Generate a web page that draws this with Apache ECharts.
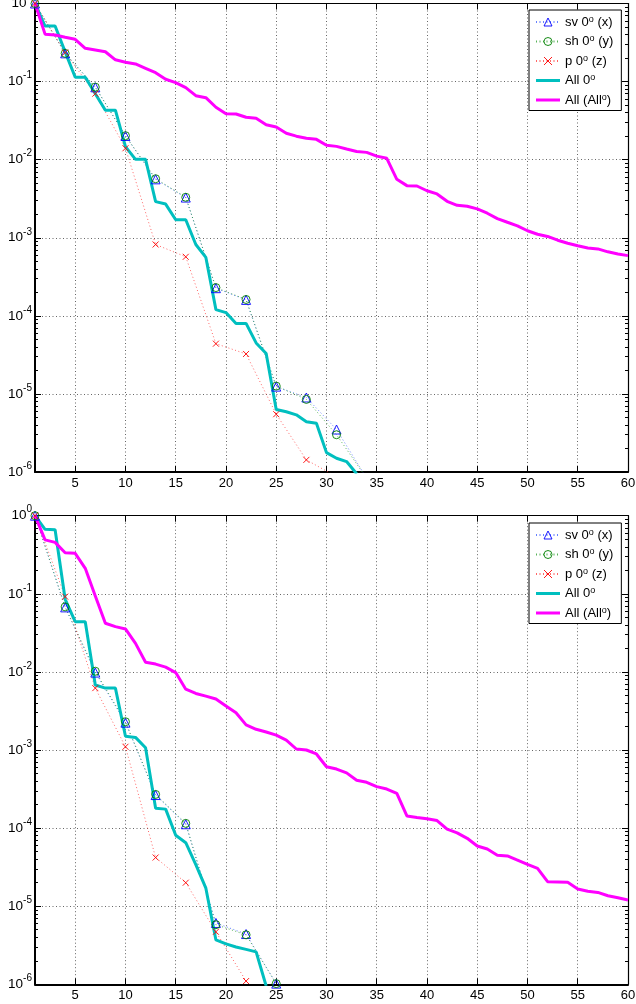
<!DOCTYPE html>
<html><head><meta charset="utf-8">
<script src="https://cdn.jsdelivr.net/npm/echarts@6/dist/echarts.min.js"></script>
<style>html,body{margin:0;padding:0;background:#fff}#c{width:636px;height:1004px}</style>
</head><body><div id="c"></div>
<script>
// ---------- data ----------
const seriesNames = ['sv 0o (x)', 'sh 0o (y)', 'p 0o (z)', 'All 0o', 'All (Allo)'];
const xTickValues = [5, 10, 15, 20, 25, 30, 35, 40, 45, 50, 55, 60];

// marker series are sampled every 3rd index, starting at 1
const topSv = [1.0, 0.23, 0.0845, 0.0201, 0.0056, 0.00327, 0.000226, 0.00016, 1.24e-5, 9.0e-6, 3.5e-6, 8.3e-7];
const topSh = [1.0, 0.23, 0.085, 0.0203, 0.0057, 0.0033, 0.00023, 0.000162, 1.26e-5, 8.5e-6, 3.0e-6, 8.3e-7];
const topP  = [1.0, 0.235, 0.07, 0.014, 0.00082, 0.00057, 4.4e-5, 3.25e-5, 5.5e-6, 1.43e-6, 8.7e-7];
const topAll0 = [1.0, 0.515, 0.515, 0.24, 0.1136, 0.1136, 0.07, 0.043, 0.043, 0.0147, 0.0101, 0.0101,
  0.0029, 0.0027, 0.0017, 0.0017, 0.00082, 0.00056, 0.00012, 0.00011, 0.00008, 0.00008, 4.5e-5, 3.3e-5,
  6.3e-6, 5.9e-6, 5.4e-6, 4.4e-6, 4.2e-6, 1.77e-6, 1.5e-6, 1.36e-6, 9.5e-7];
const topAllAll = [1.0, 0.405, 0.395, 0.37, 0.348, 0.267, 0.254, 0.241, 0.19, 0.177,
  0.168, 0.148, 0.13, 0.107, 0.097, 0.0836, 0.066, 0.0622, 0.0469, 0.0388,
  0.0385, 0.0349, 0.0339, 0.028, 0.0262, 0.0218, 0.020, 0.0188, 0.0182, 0.0153,
  0.0148, 0.0137, 0.0127, 0.0124, 0.0111, 0.0104, 0.0056, 0.00465, 0.0046, 0.0040,
  0.00364, 0.00293, 0.0026, 0.00253, 0.00234, 0.00206, 0.00176, 0.00158, 0.00142, 0.00123,
  0.00111, 0.00104, 0.00093, 0.00085, 0.00079, 0.00074, 0.00072, 0.00066, 0.00062, 0.00059];

const botSv = [1.0, 0.067, 0.0098, 0.00224, 0.000265, 0.000112, 6.1e-6, 4.4e-6, 1.02e-6];
const botSh = [1.0, 0.068, 0.0102, 0.0023, 0.00027, 0.000115, 5.8e-6, 4.3e-6, 1.02e-6];
const botP  = [1.0, 0.092, 0.0062, 0.0011, 4.2e-5, 2.0e-5, 4.7e-6, 1.1e-6];
const botAll0 = [1.0, 0.67, 0.66, 0.085, 0.044, 0.044, 0.0068, 0.0062, 0.0062, 0.0015, 0.00145, 0.00107,
  0.00018, 0.000175, 8.1e-5, 6.5e-5, 3.4e-5, 1.7e-5, 3.7e-6, 3.3e-6, 3.0e-6, 2.8e-6, 2.6e-6, 9.5e-7];
const botAllAll = [1.0, 0.49, 0.456, 0.336, 0.33, 0.212, 0.094, 0.042, 0.038, 0.0355,
  0.0232, 0.0133, 0.0126, 0.0115, 0.0098, 0.006, 0.0053, 0.0049, 0.0045, 0.00366,
  0.003, 0.0021, 0.00184, 0.0017, 0.00155, 0.00134, 0.00103, 0.0010, 0.00089, 0.00061,
  0.00057, 0.00051, 0.00041, 0.000386, 0.00034, 0.000316, 0.000279, 0.000143, 0.000137, 0.000132,
  0.000125, 9.7e-5, 8.7e-5, 7.4e-5, 5.9e-5, 5.4e-5, 4.5e-5, 4.4e-5, 3.9e-5, 3.43e-5,
  3.05e-5, 2.06e-5, 2.04e-5, 2.02e-5, 1.66e-5, 1.55e-5, 1.5e-5, 1.36e-5, 1.28e-5, 1.2e-5];

// ---------- helpers ----------
const FONT = '"Liberation Sans", Arial, Helvetica, sans-serif';
function pairs(vals, step) { return vals.map((v, i) => [1 + i * step, v]); }
const minorExps = [];
for (let k = -6; k < 0; k++) for (let m = 2; m <= 9; m++) minorExps.push(k + Math.log10(m));

const legendRich = {
  'sv 0o (x)': '{t|sv 0}{s|o}{t| (x)}',
  'sh 0o (y)': '{t|sh 0}{s|o}{t| (y)}',
  'p 0o (z)': '{t|p 0}{s|o}{t| (z)}',
  'All 0o': '{t|All 0}{s|o}',
  'All (Allo)': '{t|All (All}{s|o}{t|)}'
};
const barIcon = 'path://M0,0L24,0L24,3L0,3Z';
const legendData = [
  { name: seriesNames[0] }, { name: seriesNames[1] }, { name: seriesNames[2] },
  { name: seriesNames[3], icon: barIcon }, { name: seriesNames[4], icon: barIcon }
];

const grids = [
  { left: 35, right: 8, top: 3.5, height: 468.5, containLabel: false, outerBoundsMode: 'none' },
  { left: 35, right: 8, top: 515.7, height: 468.6, containLabel: false, outerBoundsMode: 'none' }
];

const xAxes = [], yAxes = [], series = [], legends = [];
const dotted = [1, 2.5];
grids.forEach((g, gi) => {
  xAxes.push({
    gridIndex: gi, type: 'value', min: 1, max: 60, position: 'bottom',
    axisLine: { show: true, onZero: false, lineStyle: { color: '#000', width: 2 } },
    axisTick: { show: true, inside: true, length: 6, customValues: xTickValues, lineStyle: { color: '#000' } },
    axisLabel: { show: true, customValues: xTickValues, color: '#000', fontSize: 13, fontFamily: FONT, margin: 5 },
    splitLine: { show: true, lineStyle: { color: '#666', width: 1, type: dotted } }
  });
  xAxes.push({
    gridIndex: gi, type: 'value', min: 1, max: 60, position: 'top',
    axisLine: { show: true, onZero: false, lineStyle: { color: '#000', width: 1.2 } },
    axisTick: { show: true, inside: true, length: 6, customValues: xTickValues, lineStyle: { color: '#000' } },
    axisLabel: { show: false }, splitLine: { show: false }
  });
  yAxes.push({
    gridIndex: gi, type: 'log', logBase: 10, min: 1e-6, max: 1, splitNumber: 6, position: 'left',
    axisLine: { show: true, onZero: false, lineStyle: { color: '#000', width: 2 } },
    axisTick: { show: true, inside: true, length: 6, lineStyle: { color: '#000' } },
    axisLabel: {
      show: true, margin: 3, showMinLabel: true, showMaxLabel: true,
      formatter: v => { const e = Math.round(Math.log10(v)); return '{b|10}{s|' + (e < 0 ? '-' + (-e) : e) + '}'; },
      rich: {
        b: { fontSize: 13.5, lineHeight: 22, fontFamily: FONT, color: '#000' },
        s: { fontSize: 10, lineHeight: 10, verticalAlign: 'top', fontFamily: FONT, color: '#000' }
      }
    },
    splitLine: { show: true, lineStyle: { color: '#666', width: 1, type: dotted } }
  });
  yAxes.push({
    gridIndex: gi, type: 'value', min: -6, max: 0, position: 'left',
    axisLine: { show: false }, axisLabel: { show: false }, splitLine: { show: false },
    axisTick: { show: true, inside: true, length: 3, customValues: minorExps, lineStyle: { color: '#000' } }
  });
  yAxes.push({
    gridIndex: gi, type: 'value', min: -6, max: 0, interval: 1, position: 'right',
    axisLine: { show: true, onZero: false, lineStyle: { color: '#000', width: 1.2 } },
    axisLabel: { show: false }, splitLine: { show: false },
    axisTick: { show: true, inside: true, length: 6, lineStyle: { color: '#000' } }
  });
  yAxes.push({
    gridIndex: gi, type: 'value', min: -6, max: 0, position: 'right',
    axisLine: { show: false }, axisLabel: { show: false }, splitLine: { show: false },
    axisTick: { show: true, inside: true, length: 3, customValues: minorExps, lineStyle: { color: '#000' } }
  });

  const d = gi === 0
    ? { sv: topSv, sh: topSh, p: topP, a0: topAll0, aa: topAllAll }
    : { sv: botSv, sh: botSh, p: botP, a0: botAll0, aa: botAllAll };
  const base = { type: 'line', xAxisIndex: gi * 2, yAxisIndex: gi * 4, clip: true, showAllSymbol: true,
    emphasis: { disabled: true }, silent: true, animation: false };
  series.push(Object.assign({}, base, {
    name: seriesNames[0], data: pairs(d.sv, 3), symbol: 'triangle', symbolSize: 9,
    itemStyle: { color: 'rgba(0,0,0,0)', borderColor: '#0000ff', borderWidth: 0.9 },
    lineStyle: { color: '#3355ff', width: 1, type: dotted, opacity: 0.75 }
  }));
  series.push(Object.assign({}, base, {
    name: seriesNames[1], data: pairs(d.sh, 3), symbol: 'circle', symbolSize: 8,
    itemStyle: { color: 'rgba(0,0,0,0)', borderColor: '#008000', borderWidth: 0.9 },
    lineStyle: { color: '#229922', width: 1, type: dotted, opacity: 0.75 }
  }));
  series.push(Object.assign({}, base, {
    name: seriesNames[2], data: pairs(d.p, 3), symbol: 'path://M0,0L10,10M10,0L0,10', symbolSize: 6,
    itemStyle: { color: 'rgba(0,0,0,0)', borderColor: '#ff0000', borderWidth: 0.9 },
    lineStyle: { color: '#ff3333', width: 1, type: dotted, opacity: 0.75 }
  }));
  series.push(Object.assign({}, base, {
    name: seriesNames[3], data: pairs(d.a0, 1), symbol: 'none',
    itemStyle: { color: '#00bfbf' },
    lineStyle: { color: '#00bfbf', width: 3 }
  }));
  series.push(Object.assign({}, base, {
    name: seriesNames[4], data: pairs(d.aa, 1), symbol: 'none',
    itemStyle: { color: '#ff00ff' },
    lineStyle: { color: '#ff00ff', width: 3 }
  }));

  legends.push({
    data: legendData, orient: 'vertical', left: 529, top: gi === 0 ? 10 : 523,
    backgroundColor: '#fff', borderColor: '#000', borderWidth: 1, borderRadius: 0,
    padding: [5, 8, 4, 6], itemGap: 6, itemWidth: 24, itemHeight: 10, selectedMode: false,
    itemStyle: { borderWidth: 0.9 },
    formatter: n => legendRich[n],
    textStyle: {
      color: '#000', fontFamily: FONT, fontSize: 13,
      rich: {
        t: { fontSize: 13, lineHeight: 14, fontFamily: FONT, color: '#000' },
        s: { fontSize: 9, lineHeight: 9, verticalAlign: 'top', fontFamily: FONT, color: '#000' }
      }
    }
  });
});

const chart = echarts.init(document.getElementById('c'), null, { renderer: 'canvas' });
chart.setOption({
  animation: false, backgroundColor: '#fff',
  grid: grids, xAxis: xAxes, yAxis: yAxes, series: series, legend: legends
});
</script></body></html>
